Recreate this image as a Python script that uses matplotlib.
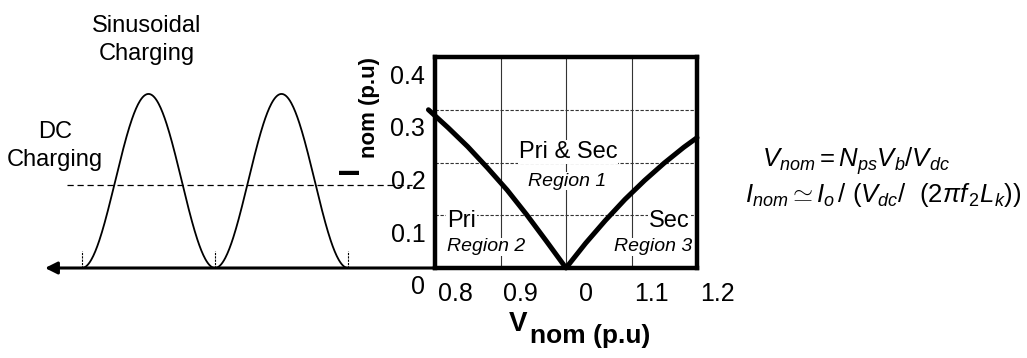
import numpy as np
import matplotlib
matplotlib.use("Agg")
import matplotlib.pyplot as plt
from matplotlib.transforms import ScaledTranslation

plt.rcParams["font.family"] = ["Liberation Sans", "DejaVu Sans"]
plt.rcParams["mathtext.fontset"] = "custom"
plt.rcParams["mathtext.rm"] = "Liberation Sans"
plt.rcParams["mathtext.it"] = "Liberation Sans:italic"
plt.rcParams["mathtext.bf"] = "Liberation Sans:bold"

# nominal current boundary vs nominal voltage
v_nom = [0.79, 0.82, 0.85, 0.88, 0.91, 0.94, 0.97, 1.0,
         1.03, 1.06, 1.09, 1.12, 1.15, 1.18, 1.2]
i_nom = [0.30, 0.266, 0.23, 0.19, 0.148, 0.101, 0.051, 0.0,
         0.047, 0.09, 0.13, 0.166, 0.199, 0.229, 0.247]

x_ticks = [0.8, 0.9, 1.0, 1.1, 1.2]
x_tick_labels = ["0.8", "0.9", "0", "1.1", "1.2"]
y_ticks = [0.0, 0.1, 0.2, 0.3, 0.4]
y_tick_labels = ["0", "0.1", "0.2", "0.3", "0.4"]

# charging profiles (time in half periods)
hump_edges = [0, 1, 2]
hump_peak = 0.33
dc_level = 0.157

W, H = 1027, 358
fig = plt.figure(figsize=(W / 100, H / 100), dpi=100)


def box(x0, y0, x1, y1):
    return [x0 / W, 1 - y1 / H, (x1 - x0) / W, (y1 - y0) / H]


def fpos(x, y):
    return x / W, 1 - y / H


# left panel: sinusoidal vs dc charging
axs = fig.add_axes(box(45, 57, 435, 268))
axs.set_xlim(-0.278, 2.654)
axs.set_ylim(0, 0.4)
axs.axis("off")

t = np.linspace(hump_edges[0], hump_edges[-1], 400)
axs.plot(t, hump_peak * np.sin(np.pi * t) ** 2, color="black", lw=1.3)
axs.axhline(dc_level, xmin=0.056, xmax=0.941, color="black", lw=0.9, ls=(0, (5, 3)))
axs.vlines(hump_edges, 0, 0.032, color="black", lw=0.8, ls=(0, (2, 1)))
axs.annotate("", xy=(0, 0), xytext=(1, 0), xycoords="axes fraction",
             arrowprops=dict(arrowstyle="-|>", color="black", lw=2.2,
                             mutation_scale=18, shrinkA=0, shrinkB=0))

# main panel: operating regions
ax = fig.add_axes(box(435, 57, 697, 268))
ax.set_zorder(2)
ax.patch.set_alpha(0)
ax.set_xlim(0.8, 1.2)
ax.set_ylim(0, 0.4)
ax.plot(v_nom, i_nom, color="black", lw=3.6, solid_capstyle="round",
        solid_joinstyle="round", clip_on=False, zorder=5)

ax.set_xticks(x_ticks, x_tick_labels)
ax.set_yticks(y_ticks, y_tick_labels)
ax.tick_params(length=0, labelsize=18)
ax.tick_params(axis="x", pad=10)
ax.tick_params(axis="y", pad=7)
for tick in ax.xaxis.get_major_ticks():
    tick.label1.set_transform(tick.label1.get_transform()
                              + ScaledTranslation(0.20, 0, fig.dpi_scale_trans))
for tick in ax.yaxis.get_major_ticks():
    tick.label1.set_transform(tick.label1.get_transform()
                              + ScaledTranslation(0, -0.17, fig.dpi_scale_trans))

ax.grid(axis="x", color="0.2", lw=0.8, ls="-")
ax.grid(axis="y", color="0.2", lw=0.8, ls=(0, (3, 1.5)))
for s in ax.spines.values():
    s.set_linewidth(3.2)

bg = dict(fc="white", ec="none", pad=0.6)
ax.text(0.508, 0.55, "Pri & Sec", transform=ax.transAxes, ha="center", va="center",
        fontsize=17, bbox=bg, zorder=3)
ax.text(0.504, 0.412, "Region 1", transform=ax.transAxes, ha="center", va="center",
        fontsize=14, style="italic", bbox=bg, zorder=3)
ax.text(0.046, 0.223, "Pri", transform=ax.transAxes, ha="left", va="center",
        fontsize=17, bbox=bg, zorder=3)
ax.text(0.046, 0.10, "Region 2", transform=ax.transAxes, ha="left", va="center",
        fontsize=14, style="italic", bbox=bg, zorder=3)
ax.text(0.973, 0.223, "Sec", transform=ax.transAxes, ha="right", va="center",
        fontsize=17, bbox=bg, zorder=3)
ax.text(0.98, 0.10, "Region 3", transform=ax.transAxes, ha="right", va="center",
        fontsize=14, style="italic", bbox=bg, zorder=3)

# axis titles
fig.text(*fpos(350, 170), "I", rotation=90, ha="center", va="center",
         fontsize=21, fontweight="bold")
fig.text(*fpos(370, 108), "nom (p.u)", rotation=90, ha="center", va="center",
         fontsize=16, fontweight="bold")
fig.text(*fpos(509, 331), "V", ha="left", va="baseline", fontsize=20, fontweight="bold")
fig.text(*fpos(530, 343), "nom (p.u)", ha="left", va="baseline", fontsize=19,
         fontweight="bold")

# annotations
fig.text(*fpos(147, 40), "Sinusoidal\nCharging", ha="center", va="center",
         fontsize=17, multialignment="center", linespacing=1.35)
fig.text(*fpos(55, 146), "DC\nCharging", ha="center", va="center",
         fontsize=17, multialignment="center", linespacing=1.35)
fig.text(*fpos(762, 167), r"$V_{nom}=N_{ps}V_b/V_{dc}$", ha="left", va="baseline",
         fontsize=18.5)
fig.text(*fpos(745, 202), r"$I_{nom}\simeq I_o\,/\ (V_{dc}/\ \ (2\pi f_{\,2}L_k))$",
         ha="left", va="baseline", fontsize=18.5)

fig.savefig("out.png", dpi=100, facecolor="white")
